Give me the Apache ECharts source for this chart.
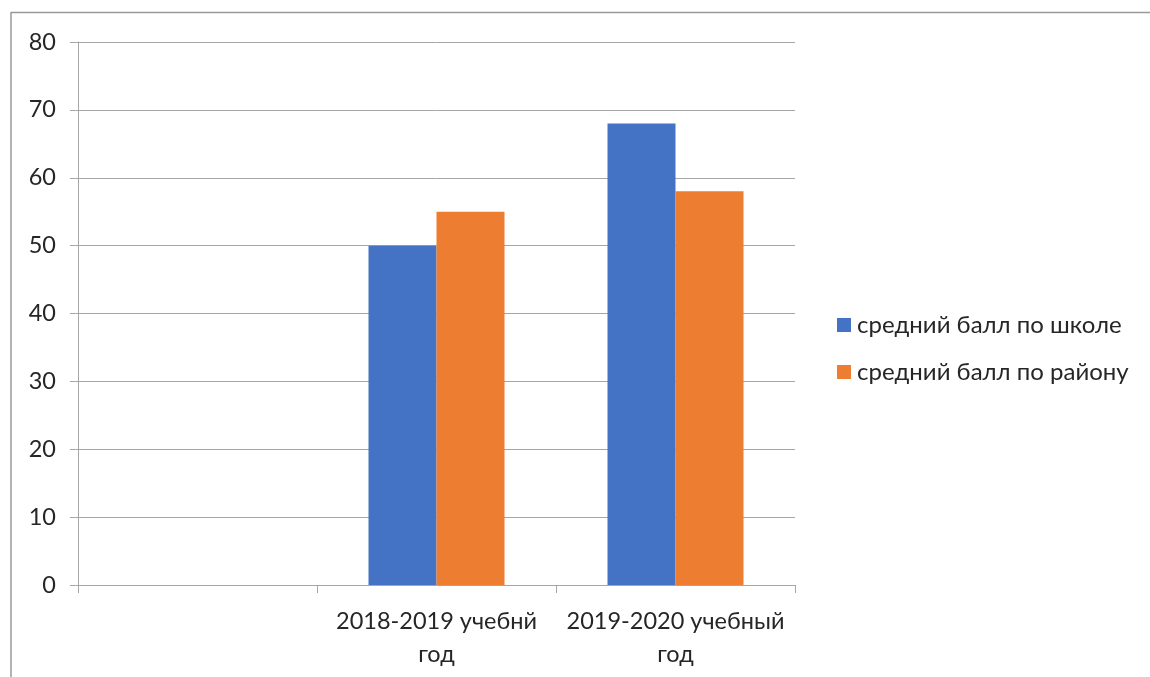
<!DOCTYPE html>
<html>
<head>
<meta charset="utf-8">
<script src="https://cdn.jsdelivr.net/npm/echarts@6/dist/echarts.min.js"></script>
<style>
html,body{margin:0;padding:0;background:#fff;}
#chart{width:1150px;height:677px;}
</style>
</head>
<body>
<div id="chart"></div>
<script>
const categories = ['', '2018-2019 учебнй год', '2019-2020 учебный год'];
const seriesNames = ['средний балл по школе', 'средний балл по району'];
const schoolValues = [null, 50, 68];
const districtValues = [null, 55, 58];
const yTicks = [0, 10, 20, 30, 40, 50, 60, 70, 80];

const colors = ['#4472C4', '#ED7D31'];
const grayLine = '#a6a6a6';
const textColor = '#262626';
const font = 'Lato, "Liberation Sans", sans-serif';

const chart = echarts.init(document.getElementById('chart'));
chart.setOption({
  animation: false,
  backgroundColor: '#fff',
  color: colors,
  graphic: [
    { type: 'line', shape: { x1: 11, y1: 12.5, x2: 1150, y2: 12.5 }, style: { stroke: '#999', lineWidth: 1.5 } },
    { type: 'line', shape: { x1: 11, y1: 12, x2: 11, y2: 677 }, style: { stroke: '#999', lineWidth: 1.5 } }
  ],
  grid: { left: 78, right: 355, top: 42, bottom: 92, containLabel: false },
  legend: {
    orient: 'vertical',
    left: 837,
    top: 313,
    padding: 0,
    itemWidth: 14,
    itemHeight: 14,
    itemGap: 23,
    icon: 'rect',
    textStyle: { fontFamily: font, fontSize: 24, color: textColor, lineHeight: 22, padding: [0, 0, 0, 1] },
    data: seriesNames
  },
  xAxis: {
    type: 'category',
    data: categories,
    axisLine: { show: true, lineStyle: { color: grayLine, width: 1 } },
    axisTick: { show: true, length: 8, lineStyle: { color: grayLine } },
    axisLabel: {
      interval: 0,
      margin: 20,
      fontFamily: font,
      fontSize: 23.5,
      color: textColor,
      lineHeight: 33,
      formatter: function (v) {
        const i = v.lastIndexOf(' ');
        return i > 0 ? v.slice(0, i) + '\n' + v.slice(i + 1) : v;
      }
    }
  },
  yAxis: {
    type: 'value',
    min: yTicks[0],
    max: yTicks[yTicks.length - 1],
    interval: yTicks[1] - yTicks[0],
    axisLine: { show: true, lineStyle: { color: grayLine, width: 1 } },
    axisTick: { show: true, length: 8, lineStyle: { color: grayLine } },
    splitLine: { show: true, lineStyle: { color: grayLine, width: 1 } },
    axisLabel: { margin: 22, fontFamily: font, fontSize: 23.5, color: textColor }
  },
  series: [
    { name: seriesNames[0], type: 'bar', data: schoolValues, barWidth: 68, barGap: '0%', itemStyle: { color: colors[0] } },
    { name: seriesNames[1], type: 'bar', data: districtValues, barWidth: 68, barGap: '0%', itemStyle: { color: colors[1] } }
  ]
});
</script>
</body>
</html>
